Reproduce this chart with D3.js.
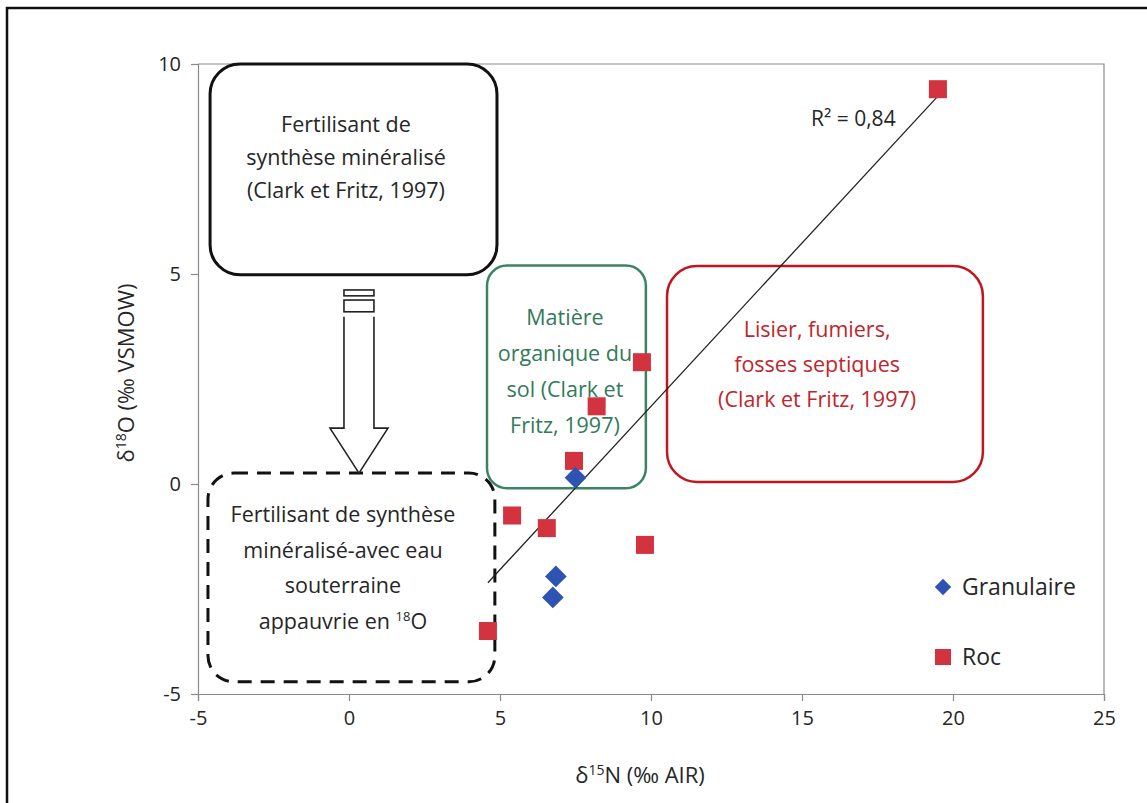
<!DOCTYPE html>
<html>
<head>
<meta charset="utf-8">
<script src="https://cdn.jsdelivr.net/npm/d3@7"></script>
<style>
  body { margin: 0; background: #fff; }
  text { font-family: "Open Sans", Lato, sans-serif; }
</style>
</head>
<body>
<div id="chart"></div>
<script>
// data (delta 15N, delta 18O)
const seriesNames = ['Granulaire', 'Roc']
const granulaireN = [7.5, 6.85, 6.75]
const granulaireO = [0.15, -2.2, -2.7]
const rocN = [19.5, 9.7, 8.2, 7.45, 5.4, 6.55, 9.8, 4.6]
const rocO = [9.4, 2.9, 1.85, 0.55, -0.75, -1.05, -1.45, -3.5]
const xTicks = [-5, 0, 5, 10, 15, 20, 25]
const yTicks = [-5, 0, 5, 10]
const r2Label = 'R² = 0,84'

const width = 1147
const height = 803
const plot = {left: 198, right: 1104, top: 64, bottom: 694}

const x = d3.scaleLinear().domain([-5, 25]).range([plot.left, plot.right])
const y = d3.scaleLinear().domain([-5, 10]).range([plot.bottom, plot.top])

const RED = '#d3323f'
const BLUE = '#2e53b2'
const INK = '#262626'

const svg = d3.select('#chart')
  .append('svg')
  .attr('width', width)
  .attr('height', height)

// page frame (only left and top edges are visible)
svg.append('path')
  .attr('d', `M7,${height + 5} V8 H${width + 5}`)
  .attr('fill', 'none')
  .attr('stroke', '#111')
  .attr('stroke-width', 2.5)

// plot area border
svg.append('path')
  .attr('d', `M${plot.left},${plot.top} H${plot.right} V${plot.bottom}`)
  .attr('fill', 'none')
  .attr('stroke', '#8a8a8a')
  .attr('stroke-width', 1.2)

// axes
const xAxis = svg.append('g')
  .attr('transform', `translate(0,${plot.bottom})`)
  .call(d3.axisBottom(x).tickValues(xTicks).tickSize(7).tickPadding(10).tickFormat(d => String(d)))
const yAxis = svg.append('g')
  .attr('transform', `translate(${plot.left},0)`)
  .call(d3.axisLeft(y).tickValues(yTicks).tickSize(7).tickPadding(10).tickFormat(d => String(d)))

;[xAxis, yAxis].forEach(g => {
  g.select('.domain').attr('stroke', '#8a8a8a').attr('stroke-width', 1.2)
  g.selectAll('.tick line').attr('stroke', '#8a8a8a').attr('stroke-width', 1.2)
  g.selectAll('.tick text')
    .attr('fill', INK)
    .style('font-size', '20px')
    .style('font-family', '"Open Sans", sans-serif')
})

// axis titles
const xTitle = svg.append('text')
  .attr('x', 640)
  .attr('y', 783)
  .attr('text-anchor', 'middle')
  .attr('fill', INK)
  .style('font-size', '22px')
xTitle.append('tspan').text('δ')
xTitle.append('tspan').text('15').attr('dy', -8).style('font-size', '14px')
xTitle.append('tspan').text('N (‰ AIR)').attr('dy', 8)

const yTitle = svg.append('text')
  .attr('transform', `translate(134,${(plot.top + plot.bottom) / 2 - 6}) rotate(-90)`)
  .attr('text-anchor', 'middle')
  .attr('fill', INK)
  .style('font-size', '22px')
yTitle.append('tspan').text('δ')
yTitle.append('tspan').text('18').attr('dy', -8).style('font-size', '14px')
yTitle.append('tspan').text('O (‰ VSMOW)').attr('dy', 8)

// annotation boxes, corners given in axis units
const boxes = [
  {x0: -4.6, x1: 4.9, y0: 4.98, y1: 10, rx: 30, stroke: '#111', dash: null, sw: 3},
  {x0: -4.67, x1: 4.83, y0: -4.71, y1: 0.26, rx: 26, stroke: '#111', dash: '14,9', sw: 3},
  {x0: 4.57, x1: 9.83, y0: -0.1, y1: 5.2, rx: 20, stroke: '#3a8464', dash: null, sw: 2.5},
  {x0: 10.53, x1: 20.99, y0: 0.05, y1: 5.19, rx: 30, stroke: '#c0161c', dash: null, sw: 2.5}
]

svg.selectAll('rect.annot')
  .data(boxes)
  .enter()
  .append('rect')
  .attr('class', 'annot')
  .attr('x', d => x(d.x0))
  .attr('y', d => y(d.y1))
  .attr('width', d => x(d.x1) - x(d.x0))
  .attr('height', d => y(d.y0) - y(d.y1))
  .attr('rx', d => d.rx)
  .attr('fill', 'none')
  .attr('stroke', d => d.stroke)
  .attr('stroke-width', d => d.sw)
  .attr('stroke-dasharray', d => d.dash)

// hollow arrow between the two fertiliser boxes
const ax = x(0.33)
const arrowTop = y(3.98)
const shaftEnd = y(1.33)
const tip = y(0.26)
svg.append('path')
  .attr('d', `M${ax - 15},${arrowTop} V${shaftEnd} H${ax - 29} L${ax},${tip} L${ax + 29},${shaftEnd} H${ax + 15} V${arrowTop}`)
  .attr('fill', '#fff')
  .attr('stroke', '#222')
  .attr('stroke-width', 1.6)
;[[4.62, 0.14], [4.38, 0.28]].forEach(([top, h]) => {
  svg.append('rect')
    .attr('x', ax - 15)
    .attr('y', y(top))
    .attr('width', 30)
    .attr('height', y(top - h) - y(top))
    .attr('fill', '#fff')
    .attr('stroke', '#222')
    .attr('stroke-width', 1.6)
})

// box texts
function textBlock (lines, cx, cy, lineH, color) {
  const t = svg.append('text')
    .attr('text-anchor', 'middle')
    .attr('fill', color)
    .style('font-size', '21.5px')
  lines.forEach((line, i) => {
    t.append('tspan')
      .attr('x', cx)
      .attr('y', cy + (i - (lines.length - 1) / 2) * lineH + 7.5)
      .text(line)
  })
  return t
}

textBlock(['Fertilisant de', 'synthèse minéralisé', '(Clark et Fritz, 1997)'], x(-0.1), y(7.78), 33, INK)
textBlock(['Matière', 'organique du', 'sol (Clark et', 'Fritz, 1997)'], x(7.15), y(2.68), 36, '#347a5b')
textBlock(['Lisier, fumiers,', 'fosses septiques', '(Clark et Fritz, 1997)'], x(15.5), y(2.85), 35, '#c0262c')
const dashText = textBlock(['Fertilisant de synthèse', 'minéralisé-avec eau', 'souterraine', 'appauvrie en '], x(-0.2), y(-2.0), 35.5, INK)
const lastLine = dashText.selectAll('tspan').filter((d, i) => i === 3)
lastLine.append('tspan').text('18').attr('dy', -8).style('font-size', '13px')
lastLine.append('tspan').text('O').attr('dy', 8)

// linear trend for Roc (least squares)
const meanN = d3.mean(rocN)
const meanO = d3.mean(rocO)
const slope = d3.sum(rocN, (v, i) => (v - meanN) * (rocO[i] - meanO)) / d3.sum(rocN, v => (v - meanN) ** 2)
const intercept = meanO - slope * meanN
const trendX = d3.extent(rocN)
svg.append('line')
  .attr('x1', x(trendX[0]))
  .attr('y1', y(intercept + slope * trendX[0]))
  .attr('x2', x(trendX[1]))
  .attr('y2', y(intercept + slope * trendX[1]))
  .attr('stroke', '#222')
  .attr('stroke-width', 1.3)

svg.append('text')
  .attr('x', 811)
  .attr('y', 126)
  .attr('fill', INK)
  .style('font-size', '21px')
  .text(r2Label)

// points
const sq = 18
svg.selectAll('rect.roc')
  .data(rocN.map((n, i) => [n, rocO[i]]))
  .enter()
  .append('rect')
  .attr('class', 'roc')
  .attr('x', d => x(d[0]) - sq / 2)
  .attr('y', d => y(d[1]) - sq / 2)
  .attr('width', sq)
  .attr('height', sq)
  .attr('fill', RED)

const diamond = d3.symbol().type(d3.symbolDiamond2).size(300)
svg.selectAll('path.gran')
  .data(granulaireN.map((n, i) => [n, granulaireO[i]]))
  .enter()
  .append('path')
  .attr('class', 'gran')
  .attr('d', diamond)
  .attr('transform', d => `translate(${x(d[0])},${y(d[1])})`)
  .attr('fill', BLUE)

// legend
const legend = svg.append('g').attr('transform', 'translate(943,587)')
seriesNames.forEach((name, i) => {
  const g = legend.append('g').attr('transform', `translate(0,${i * 70})`)
  if (name === 'Granulaire') {
    g.append('path').attr('d', d3.symbol().type(d3.symbolDiamond2).size(170)).attr('fill', BLUE)
  } else {
    g.append('rect').attr('x', -8).attr('y', -8).attr('width', 16).attr('height', 16).attr('fill', RED)
  }
  g.append('text')
    .attr('x', 19)
    .attr('y', 8)
    .attr('fill', INK)
    .style('font-size', '23px')
    .text(name)
})
</script>
</body>
</html>
